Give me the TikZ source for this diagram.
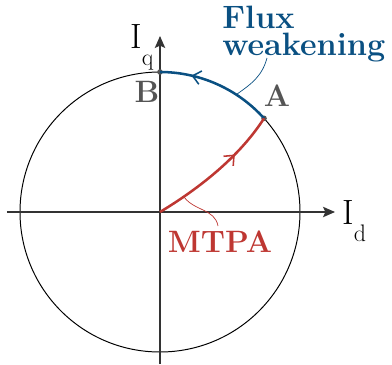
\documentclass[tikz,border=0pt]{standalone}
\usepackage{xcolor}
\usetikzlibrary{arrows.meta,decorations.markings,calc}
\definecolor{fwblue}{RGB}{10,80,130}
\definecolor{mtpared}{RGB}{190,55,50}
\definecolor{ptgray}{RGB}{85,85,85}
\newcommand{\cursub}[2]{#1\raisebox{-0.5em}{\fontsize{17}{17}\selectfont #2}}

\begin{document}
\begin{tikzpicture}[
  x=0.25mm, y=0.25mm,
  every node/.style={font=\fontsize{20}{18}\selectfont},
  axis/.style={draw=black!80, line width=0.9pt, -{Stealth[length=3mm, width=2.6mm, inset=0.6mm]}},
  circ/.style={draw=black, line width=0.7pt},
  midarr/.style={postaction={decorate}, decoration={markings, mark=at position #1 with {\arrow{Straight Barb[length=2mm, width=3.4mm, line width=1.1pt]}}}},
  pt/.style={circle, fill=ptgray, inner sep=0pt, minimum size=1.4mm},
  lab/.style={font=\fontsize{22}{22}\selectfont\bfseries, text=ptgray, inner sep=0pt},
  axlab/.style={font=\fontsize{25}{25}\selectfont, inner sep=0pt, anchor=base west},
  lead/.style={line width=0.5pt}
]
\useasboundingbox (-160,-152) rectangle (232,212);

% axes and circle
\coordinate (O) at (0,0);
\coordinate (xmin) at (-153,0);
\coordinate (xmax) at (175,0);
\coordinate (ymin) at (0,-152);
\coordinate (ymax) at (0,176);
\draw[circ] (O) circle[radius=140];
\draw[axis] (xmin) -- (xmax);
\draw[axis] (ymin) -- (ymax);
\node[axlab] (iq) at (-30,164) {\cursub{I}{q}};
\node[axlab] (id) at (182,-12) {\cursub{I}{d}};

% operating points
\node[pt] (A) at (42:140) {};
\node[pt] (B) at (90:140) {};
\node[lab] (labA) at (117,116) {A};
\node[lab] (labB) at (-13,120) {B};

% trajectories
\draw[fwblue, line width=1.8pt, midarr=0.73] (A.center) arc[start angle=42, end angle=90, radius=140];
\draw[mtpared, line width=1.8pt, midarr=0.67] (O) .. controls (40,24) and (80,56) .. (A.center) coordinate[pos=0.2] (mt);

% labels with leaders
\node[font=\fontsize{23}{19}\selectfont\bfseries, text=fwblue, align=left, anchor=north west, inner sep=0pt] (fw) at (62,206) {Flux\\weakening};
\node[font=\fontsize{22}{18}\selectfont\bfseries, text=mtpared, inner sep=0pt] (mtpa) at (60,-30) {MTPA};
\coordinate (fws) at (107,154);
\coordinate (fwt) at (57:140);
\coordinate (mtl) at (58,-14);
\draw[fwblue, lead] (fws) to[out=-105, in=35] (fwt);
\draw[mtpared, lead] (mt) to[out=-55, in=100] (mtl);
\end{tikzpicture}
\end{document}
